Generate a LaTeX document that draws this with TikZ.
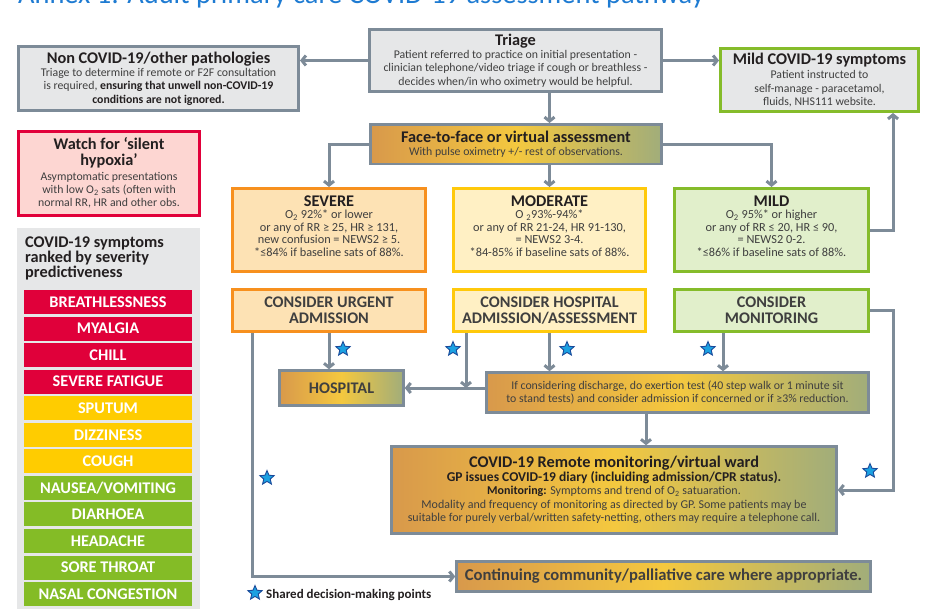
\documentclass[tikz,border=0pt]{standalone}
\usepackage{fontspec}
\setmainfont{Carlito}
\usetikzlibrary{arrows.meta,shapes.geometric,calc}
\definecolor{bgray}{HTML}{7D8B98}
\definecolor{conn}{HTML}{7D8B98}
\definecolor{lgray}{HTML}{E6E7E8}
\definecolor{orng}{HTML}{F7901E}
\definecolor{peach}{HTML}{FDE2B4}
\definecolor{yell}{HTML}{FFC90B}
\definecolor{lyell}{HTML}{FFF0C4}
\definecolor{grn}{HTML}{85BC2A}
\definecolor{lgrn}{HTML}{E1EFCB}
\definecolor{red1}{HTML}{E1003A}
\definecolor{pinkf}{HTML}{FDD6D2}
\definecolor{barred}{HTML}{E0003A}
\definecolor{baryel}{HTML}{FFCC00}
\definecolor{bargrn}{HTML}{84BC26}
\definecolor{gL}{HTML}{D8994B}
\definecolor{gM}{HTML}{F4C83F}
\definecolor{gR}{HTML}{A1AD7A}
\definecolor{ttl}{HTML}{1E7BD2}
\definecolor{ink}{HTML}{231F20}
\definecolor{bodyc}{HTML}{3F3F3F}
\definecolor{starf}{HTML}{1BA1E2}
\definecolor{stard}{HTML}{1A4B9B}
\newcommand\bodyf{\fontsize{11.8}{13.2}\selectfont}
\newcommand\numf{\fontsize{12.3}{12.5}\selectfont}
\newcommand\hdf{\fontsize{16.3}{16}\selectfont\bfseries\color{ink}}
\newcommand\capf{\fontsize{16.2}{16}\selectfont\bfseries\color{ink}}
\newcommand\barf{\fontsize{16.3}{15}\selectfont\bfseries}
\begin{document}
\begin{tikzpicture}[x=1pt,y=-1pt,
  box/.style={draw, line width=3pt, align=center, inner sep=0pt, text=bodyc, font=\bodyf},
  gbox/.style={box, draw=bgray, fill=lgray},
  obox/.style={box, draw=orng, fill=peach},
  ybox/.style={box, draw=yell, fill=lyell},
  gnbox/.style={box, draw=grn, fill=lgrn},
  rbox/.style={box, draw=red1, fill=pinkf},
  gradbox/.style={box, draw=bgray, line width=2.5pt, left color=gL, right color=gR, middle color=gM},
  bar/.style={fill=#1, text=white, font=\barf, minimum width=168pt, minimum height=24pt, inner sep=0pt},
  arr/.style={draw=conn, line width=3pt, -{Straight Barb[length=4pt,width=10pt]}},
  sdm/.style={star, star points=5, star point ratio=2.2, minimum size=15pt, inner sep=0pt, fill=starf, draw=stard, line width=0.9pt}]
\useasboundingbox (0,0) rectangle (939,610);
\clip (0,0) rectangle (939,610);
\fill[white] (0,0) rectangle (939,610);

% title (cut at top)
\node[anchor=base west, inner sep=0pt, text=ttl, font=\fontsize{28.4}{28}\selectfont] (title) at (18,4) {Annex 1: Adult primary care COVID-19 assessment pathway};

% top row
\node[gbox, minimum width=280pt, minimum height=64pt] (noncovid) at (158.5,78.5)
 {{\hdf Non COVID-19/other pathologies}\\
  Triage to determine if remote or F2F consultation\\
  is required, \textbf{\color{ink}ensuring that unwell non-COVID-19}\\
  \textbf{\color{ink}conditions are not ignored.}};
\node[gbox, minimum width=292pt, minimum height=62pt] (triage) at (515.5,60.5)
 {{\hdf Triage}\\
  Patient referred to practice on initial presentation -\\
  clinician telephone/video triage if cough or breathless -\\
  decides when/in who oximetry would be helpful.};
\node[gnbox, fill=lgray, minimum width=198pt, minimum height=63pt] (mildcovid) at (819.5,80)
 {{\hdf Mild COVID-19 symptoms}\\[1pt]
  Patient instructed to\\
  self-manage - paracetamol,\\
  fluids, NHS111 website.};

% left column
\node[rbox, minimum width=181pt, minimum height=84pt] (hypoxia) at (109,173)
 {{\hdf Watch for ‘silent}\\[2.5pt]{\hdf hypoxia’}\\[2pt]
  Asymptomatic presentations\\
  with low O\textsubscript{2} sats (often with\\
  normal RR, HR and other obs.};
\fill[lgray] (17,228) rectangle (200,609);
\node[anchor=north west, align=left, inner sep=0pt, font={\fontsize{16.3}{15}\selectfont\bfseries\color{ink}}] (symtitle) at (25,237)
 {COVID-19 symptoms\\ranked by severity\\predictiveness};
\foreach \t/\c [count=\i from 0] in {BREATHLESSNESS/barred, MYALGIA/barred, CHILL/barred, SEVERE FATIGUE/barred, SPUTUM/baryel, DIZZINESS/baryel, COUGH/baryel, {NAUSEA/VOMITING}/bargrn, DIARHOEA/bargrn, HEADACHE/bargrn, SORE THROAT/bargrn, NASAL CONGESTION/bargrn}
  \node[bar=\c] (bar\i) at (108,{302+26.55*\i}) {\t};

% assessment
\node[gradbox, minimum width=291pt, minimum height=39.5pt] (face) at (516,144)
 {{\hdf Face-to-face or virtual assessment}\\
  With pulse oximetry +/- rest of observations.};

\node[obox, minimum width=193pt, minimum height=83pt, font=\numf, text depth=8pt] (severe) at (329,230)
 {{\hdf SEVERE}\\
  O\textsubscript{2} 92\%* or lower\\
  or any of RR ≥ 25, HR ≥ 131,\\
  new confusion = NEWS2 ≥ 5.\\
  *≤84\% if baseline sats of 88\%.};
\node[ybox, minimum width=192pt, minimum height=83pt, font=\numf, text depth=8pt] (moderate) at (549.5,230)
 {{\hdf MODERATE}\\
  O \textsubscript{2}93\%-94\%*\\
  or any of RR 21-24, HR 91-130,\\
  = NEWS2 3-4.\\
  *84-85\% if baseline sats of 88\%.};
\node[gnbox, minimum width=194pt, minimum height=83pt, font=\numf, text depth=8pt] (mild) at (771.5,230)
 {{\hdf MILD}\\
  O\textsubscript{2} 95\%* or higher\\
  or any of RR ≤ 20, HR ≤ 90,\\
  = NEWS2 0-2.\\
  *≤86\% if baseline sats of 88\%.};

\node[obox, minimum width=193pt, minimum height=42pt, font=\capf] (urgent) at (329,310.5)
 {CONSIDER URGENT\\ADMISSION};
\node[ybox, minimum width=192pt, minimum height=42pt, font=\capf] (hospadm) at (549.5,310.5)
 {CONSIDER HOSPITAL\\ADMISSION/ASSESSMENT};
\node[gnbox, minimum width=194pt, minimum height=42pt, font=\capf] (monitor) at (771.5,310.5)
 {CONSIDER\\MONITORING};

\node[gradbox, minimum width=124pt, minimum height=35pt, font=\capf] (hospital) at (341.5,388)
 {HOSPITAL};
\node[gradbox, minimum width=382pt, minimum height=40pt] (exertion) at (677.5,392.5)
 {If considering discharge, do exertion test (40 step walk or 1 minute sit\\
  to stand tests) and consider admission if concerned or if ≥3\% reduction.};

\node[gradbox, minimum width=445pt, minimum height=87pt, font={\fontsize{12}{13.6}\selectfont}] (remote) at (614,490)
 {{\hdf COVID-19 Remote monitoring/virtual ward}\\
  {\fontsize{13.5}{13}\selectfont\bfseries\color{ink}GP issues COVID-19 diary (incluiding admission/CPR status).}\\
  \textbf{\color{ink}Monitoring:} Symptoms and trend of O\textsubscript{2} satuaration.\\
  Modality and frequency of monitoring as directed by GP. Some patients may be\\
  suitable for purely verbal/written safety-netting, others may require a telephone call.};
\node[gradbox, minimum width=414pt, minimum height=30pt, font={\fontsize{16.6}{17}\selectfont\bfseries\color{ink}}] (continuing) at (663.5,576.5)
 {Continuing community/palliative care where appropriate.};

% helper coordinates
\coordinate (rail) at (893,0);

% connectors
\draw[arr] (triage.west) -- (triage.west -| noncovid.east);
\draw[arr] (triage.east) -- (triage.east -| mildcovid.west);
\draw[arr] (moderate.north |- triage.south) -- (moderate.north |- face.north);
\draw[arr] (face.west) -| (severe.north);
\draw[arr] (face.south -| moderate.north) -- (moderate.north);
\draw[arr] (face.east) -| (mild.north);
\draw[arr] (mild.east) -| (rail |- mildcovid.south);
\draw[arr] (urgent.south) -- (urgent.south |- hospital.north);
\draw[arr] ([xshift=-77pt]urgent.south) |- (continuing.west);
\coordinate (junc) at ([xshift=-83.5pt]hospadm.south |- hospital.east);
\draw[arr] ([xshift=-83.5pt]hospadm.south) -- (junc);
\draw[arr] (exertion.west |- hospital.east) -- (hospital.east);
\draw[arr] (hospadm.south) -- (hospadm.south |- exertion.north);
\draw[arr] ([xshift=-48.5pt]monitor.south) -- ([xshift=-48.5pt]monitor.south |- exertion.north);
\draw[arr] (monitor.east) -| (rail |- remote.east) -- (remote.east);
\draw[arr] ([xshift=-31.5pt]exertion.south) -- ([xshift=-31.5pt]exertion.south |- remote.north);

% shared decision-making stars
\node[sdm] (s1) at (343,349) {};
\node[sdm] (s2) at (453,349) {};
\node[sdm] (s3) at (567,349) {};
\node[sdm] (s4) at (708,349) {};
\node[sdm] (s5) at (870,471) {};
\node[sdm] (s6) at (267,478) {};
\node[sdm] (s7) at (255,593) {};
\node[anchor=west, inner sep=0pt, font={\fontsize{13}{12}\selectfont\bfseries}, text=ink] (legend) at (266,595) {Shared decision-making points};
\end{tikzpicture}
\end{document}
